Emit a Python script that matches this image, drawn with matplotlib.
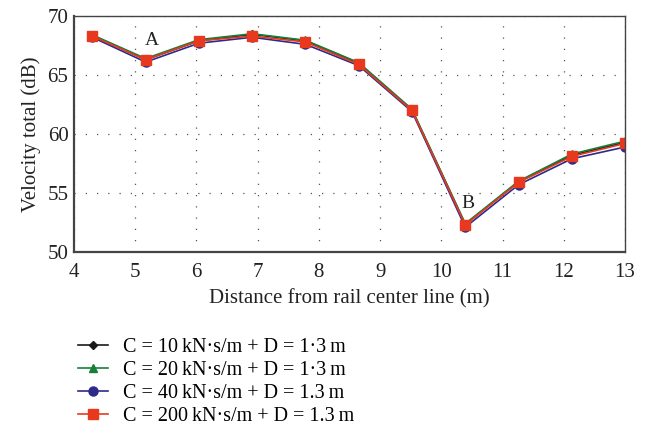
import numpy as np
import matplotlib.pyplot as plt

plt.rcParams['font.family'] = ['Liberation Serif', 'DejaVu Serif']

## data ##
distance = [4.3, 5.17, 6.04, 6.91, 7.78, 8.65, 9.52, 10.39, 11.26, 12.13, 13.0]
vel_c10 = [68.35, 66.3, 67.9, 68.45, 67.9, 66.0, 62.05, 52.35, 55.95, 58.2, 59.3]
vel_c20 = [68.4, 66.4, 68.0, 68.5, 67.95, 66.05, 62.1, 52.4, 56.0, 58.3, 59.4]
vel_c40 = [68.2, 66.1, 67.7, 68.2, 67.6, 65.8, 61.9, 52.1, 55.7, 57.9, 58.9]
vel_c200 = [68.3, 66.3, 67.9, 68.3, 67.8, 65.9, 62.0, 52.3, 55.9, 58.1, 59.2]

labels = ['C = 10\u2009kN\u00b7s/m + D = 1\u00b73\u2009m',
          'C = 20\u2009kN\u00b7s/m + D = 1\u00b73\u2009m',
          'C = 40\u2009kN\u00b7s/m + D = 1.3\u2009m',
          'C = 200\u2009kN\u00b7s/m + D = 1.3\u2009m']

fig = plt.figure(figsize=(6.46, 4.34), dpi=100)
ax = fig.add_axes([0.1146, 0.4194, 0.853, 0.5436])

ax.plot(distance, vel_c10, color='#1a1a1a', marker='D', markersize=4, linewidth=1.2, label=labels[0])
ax.plot(distance, vel_c20, color='#16803a', marker='^', markersize=6, linewidth=1.2, label=labels[1])
ax.plot(distance, vel_c40, color='#2e2a8c', marker='o', markersize=6.5, linewidth=1.2, label=labels[2])
ax.plot(distance, vel_c200, color='#e8391e', marker='s', markersize=7, linewidth=1.2, label=labels[3])

ax.text(5.27, 67.95, 'A', fontsize=14, ha='center', va='center', color='#222222')
ax.text(10.44, 54.15, 'B', fontsize=14, ha='center', va='center', color='#222222')

ax.set_xlim(4, 13)
ax.set_ylim(50, 70)
ax.set_xticks(np.arange(4, 14, 1))
ax.set_yticks(np.arange(50, 75, 5))
ax.tick_params(axis='x', length=0, labelsize=15, colors='#222222', pad=8)
ax.tick_params(axis='y', length=0, labelsize=15, colors='#222222', pad=4)
ax.grid(True, linestyle=(0, (1, 8)), color='#555555', linewidth=0.9)

for side in ['left', 'bottom']:
    ax.spines[side].set_linewidth(1.6)
    ax.spines[side].set_color('#444444')
for side in ['top', 'right']:
    ax.spines[side].set_linewidth(1.0)
    ax.spines[side].set_color('#444444')

ax.set_xlabel('Distance from rail center line (m)', fontsize=15, color='#222222', labelpad=5)
ax.set_ylabel('Velocity total (dB)', fontsize=15, color='#222222', labelpad=5)

fig.legend(loc='upper left', bbox_to_anchor=(0.108, 0.24), frameon=False, fontsize=14.5,
           handlelength=1.5, handletextpad=0.75, labelspacing=0.2, borderaxespad=0)

plt.savefig('out.png', dpi=100)
